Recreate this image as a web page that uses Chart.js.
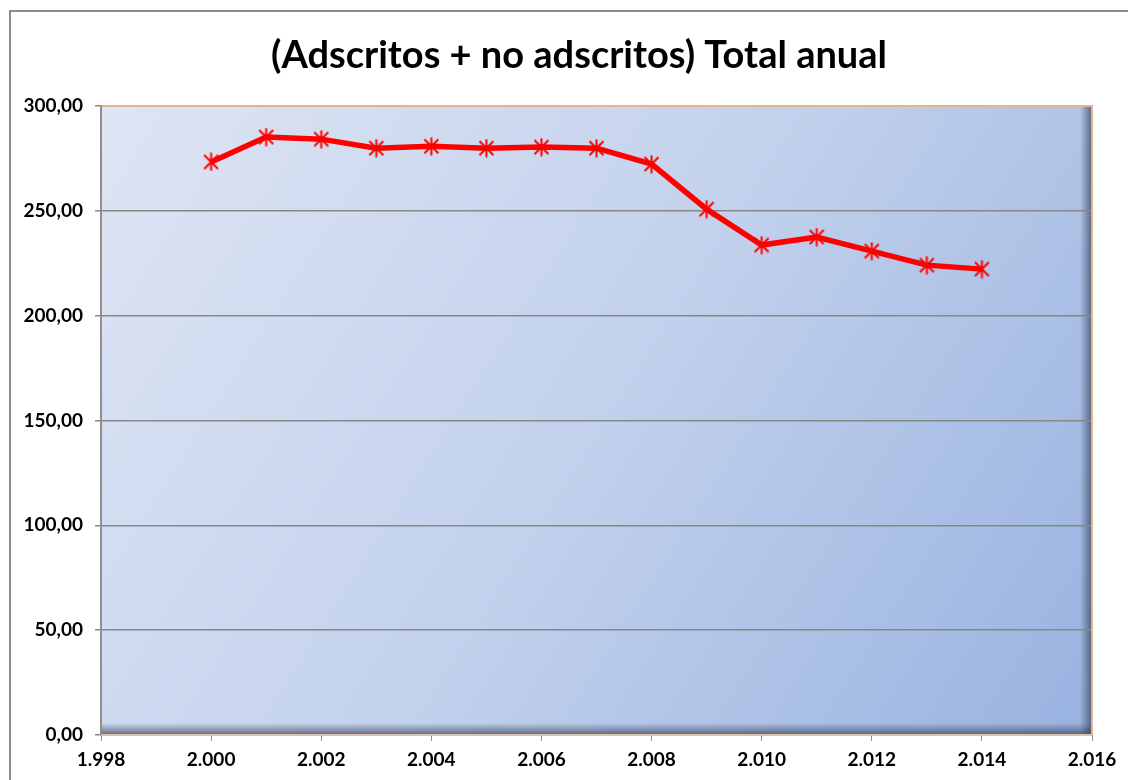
<!DOCTYPE html>
<html>
<head>
<meta charset="utf-8">
<script src="https://cdn.jsdelivr.net/npm/chart.js@4.4.1/dist/chart.umd.min.js"></script>
<style>
  html, body { margin: 0; padding: 0; background: #fff; }
  #wrap { width: 1128px; height: 780px; }
</style>
</head>
<body>
<div id="wrap"><canvas id="chart"></canvas></div>
<script>
const years = [2000, 2001, 2002, 2003, 2004, 2005, 2006, 2007, 2008, 2009, 2010, 2011, 2012, 2013, 2014];
const totals = [273.3, 285.2, 284.2, 279.9, 280.8, 279.9, 280.4, 279.9, 272.3, 250.8, 233.7, 237.5, 230.8, 224.1, 222.2];
const xTicks = [1998, 2000, 2002, 2004, 2006, 2008, 2010, 2012, 2014, 2016];
const yTicks = [0, 50, 100, 150, 200, 250, 300];
const titleText = "(Adscritos + no adscritos) Total anual";

const FONT = "Lato, 'Open Sans', sans-serif";

// Excel style asterisk marker: X plus a vertical bar
function makeMarker() {
    const c = document.createElement("canvas");
    c.width = 19; c.height = 19;
    const g = c.getContext("2d");
    g.strokeStyle = "#ff0000";
    g.lineWidth = 2;
    g.beginPath();
    g.moveTo(2.5, 2.5); g.lineTo(16.5, 16.5);
    g.moveTo(16.5, 2.5); g.lineTo(2.5, 16.5);
    g.moveTo(9.5, 0.5); g.lineTo(9.5, 18.5);
    g.stroke();
    return c;
}

const plotDecor = {
    id: "plotDecor",
    beforeDraw(chart) {
        const { ctx, chartArea: a } = chart;
        ctx.save();
        // outer frame of the chart object
        ctx.strokeStyle = "#8c8c8c";
        ctx.lineWidth = 2;
        ctx.beginPath();
        ctx.moveTo(10, 790);
        ctx.lineTo(10, 11);
        ctx.lineTo(1130, 11);
        ctx.stroke();

        // plot area gradient
        const grad = ctx.createLinearGradient(a.left, a.top, a.right, a.bottom);
        grad.addColorStop(0, "#dee5f4");
        grad.addColorStop(0.5, "#c2d1ec");
        grad.addColorStop(1, "#98b2e0");
        ctx.fillStyle = grad;
        ctx.fillRect(a.left, a.top, a.right - a.left, a.bottom - a.top);

        // inner shadow along bottom and right
        const sb = ctx.createLinearGradient(0, a.bottom - 12, 0, a.bottom);
        sb.addColorStop(0, "rgba(60,70,95,0)");
        sb.addColorStop(1, "rgba(60,70,95,0.75)");
        ctx.fillStyle = sb;
        ctx.fillRect(a.left, a.bottom - 12, a.right - a.left, 12);
        const sr = ctx.createLinearGradient(a.right - 12, 0, a.right, 0);
        sr.addColorStop(0, "rgba(60,70,95,0)");
        sr.addColorStop(1, "rgba(60,70,95,0.75)");
        ctx.fillStyle = sr;
        ctx.fillRect(a.right - 12, a.top, 12, a.bottom - a.top);

        // chart title
        ctx.fillStyle = "#000";
        ctx.font = "bold 38px " + FONT;
        ctx.textAlign = "center";
        ctx.textBaseline = "middle";
        ctx.fillText(titleText, 579, 56);
        ctx.restore();
    },
    afterDatasetsDraw(chart) {
        const { ctx, chartArea: a } = chart;
        ctx.save();
        ctx.lineWidth = 2;
        ctx.strokeStyle = "#e6b38f";
        ctx.beginPath();
        ctx.moveTo(a.left, a.top);
        ctx.lineTo(a.right, a.top);
        ctx.lineTo(a.right, a.bottom);
        ctx.stroke();
        ctx.strokeStyle = "#ddc3ad";
        ctx.beginPath();
        ctx.moveTo(a.left, a.bottom);
        ctx.lineTo(a.right, a.bottom);
        ctx.stroke();
        ctx.strokeStyle = "#8f8f8f";
        ctx.beginPath();
        ctx.moveTo(a.left, a.top);
        ctx.lineTo(a.left, a.bottom);
        ctx.stroke();
        ctx.restore();
    }
};

const fmtY = v => v.toFixed(2).replace(".", ",");
const fmtX = v => String(v).replace(/^(\d)(\d{3})$/, "$1.$2");

new Chart(document.getElementById("chart"), {
    type: "line",
    data: {
        datasets: [{
            label: "Total anual",
            data: years.map((y, i) => ({ x: y, y: totals[i] })),
            borderColor: "#ff0000",
            borderWidth: 5.5,
            tension: 0,
            pointStyle: makeMarker(),
            pointRadius: 9,
            pointHoverRadius: 9
        }]
    },
    options: {
        responsive: true,
        maintainAspectRatio: false,
        animation: false,
        layout: { padding: { left: 10, right: 36, top: 106, bottom: 0 } },
        plugins: {
            legend: { display: false },
            tooltip: { enabled: false },
            title: { display: false }
        },
        scales: {
            x: {
                type: "linear",
                min: 1998,
                max: 2016,
                afterBuildTicks: s => { s.ticks = xTicks.map(v => ({ value: v })); },
                afterFit: s => { s.height = 45; s.paddingLeft = 0; s.paddingRight = 0; },
                ticks: {
                    color: "#000",
                    font: { family: FONT, size: 19, weight: "bold" },
                    padding: 7,
                    maxRotation: 0,
                    callback: v => fmtX(v)
                },
                grid: { drawOnChartArea: false, drawTicks: true, tickLength: 6, color: "#8f8f8f" },
                border: { display: false }
            },
            y: {
                min: 0,
                max: 300,
                afterBuildTicks: s => { s.ticks = yTicks.map(v => ({ value: v })); },
                afterFit: s => { s.width = 91; s.paddingTop = 0; s.paddingBottom = 0; },
                ticks: {
                    color: "#000",
                    font: { family: FONT, size: 19, weight: "bold" },
                    padding: 12,
                    callback: v => fmtY(v)
                },
                grid: { color: "#878787", lineWidth: 1.5, tickLength: 6 },
                border: { display: false }
            }
        }
    },
    plugins: [plotDecor]
});
</script>
</body>
</html>
